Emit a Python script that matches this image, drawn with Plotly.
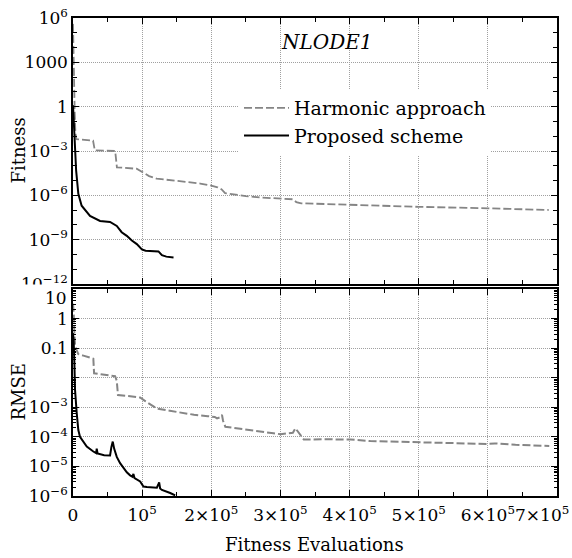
import plotly.graph_objects as go

# ---------------- data ----------------
# Top panel: Fitness vs fitness evaluations
fit_harm_x = [0, 800, 1500, 2500, 3500, 5000, 29000, 31500, 61000, 63500, 92000, 100000,
              110000, 121000, 150000, 184000, 200000, 209000, 215000, 220000, 250000, 272000,
              318000, 323000, 330000, 400000, 500000, 600000, 688000]
fit_harm_y = [4e5, 1e3, 10, 0.32, 0.016, 6.3e-3, 5e-3, 1.1e-3, 1e-3, 7.9e-5, 6.3e-5, 4e-5,
              2e-5, 1.35e-5, 1e-5, 6.3e-6, 4.5e-6, 3.5e-6, 2.5e-6, 1.4e-6, 8.9e-7, 7.1e-7,
              5.4e-7, 3.5e-7, 2.9e-7, 2.2e-7, 1.66e-7, 1.32e-7, 1.02e-7]

fit_prop_x = [0, 1500, 2900, 4500, 7700, 12500, 24600, 39100, 53600, 63300, 70400, 77800,
              85100, 92300, 99600, 105000, 123600, 128600, 135000, 145400]
fit_prop_y = [1.26, 0.063, 2.5e-3, 5e-5, 1.26e-6, 2e-7, 4e-8, 1.86e-8, 1.58e-8, 8.5e-9,
              3.2e-9, 1.8e-9, 8.7e-10, 5e-10, 2.2e-10, 1.8e-10, 1.6e-10, 8.9e-11, 7.1e-11, 6.3e-11]

# Bottom panel: RMSE vs fitness evaluations
rmse_harm_x = [0, 1000, 2000, 3000, 5000, 7700, 15000, 25000, 29400, 30500, 45000, 60900,
               63300, 65000, 80000, 97000, 105000, 121000, 140000, 160000, 175000, 195000,
               205000, 208300, 212000, 215500, 217000, 220300, 240000, 258000, 271000, 290000,
               300000, 318000, 321700, 326000, 333800, 360000, 401400, 430000, 460000, 498100,
               540000, 570000, 599600, 610000, 640000, 688800]
rmse_harm_y = [3.2, 1.6, 0.32, 0.126, 0.089, 0.063, 0.056, 0.047, 0.044, 0.0141, 0.0126, 0.0112,
               0.0079, 0.0026, 0.0024, 0.00214, 0.00158, 0.00091, 0.00076, 0.00063, 0.00056,
               0.0005, 0.00047, 0.00042, 0.00045, 0.00055, 0.00035, 0.00022, 0.00019, 0.000158,
               0.000148, 0.000132, 0.000123, 0.000138, 0.000195, 0.000141, 8.1e-5, 8.3e-5, 8.1e-5,
               7.2e-5, 6.9e-5, 6.3e-5, 6.0e-5, 5.9e-5, 5.75e-5, 6.0e-5, 5.4e-5, 4.9e-5]

rmse_prop_x = [0, 1000, 2000, 2900, 5400, 7700, 10100, 17400, 19900, 29400, 33500, 34300, 35500,
               45000, 53600, 55500, 57500, 59500, 63300, 68100, 77800, 82600, 86000, 87400, 89000,
               97100, 101900, 106800, 121300, 123500, 124600, 126000, 128600, 140600, 147800]
rmse_prop_y = [0.32, 0.16, 0.032, 0.004, 6.3e-4, 1.7e-4, 1e-4, 6.0e-5, 4.7e-5, 3.2e-5, 2.8e-5,
               4.0e-5, 2.75e-5, 2.4e-5, 2.35e-5, 4.5e-5, 6.9e-5, 4.0e-5, 2.1e-5, 1.29e-5, 6.3e-6,
               5.0e-6, 4.5e-6, 5.6e-6, 4.0e-6, 3.1e-6, 2.1e-6, 2.0e-6, 1.9e-6, 2.5e-6, 2.9e-6,
               1.8e-6, 1.6e-6, 1.26e-6, 1.05e-6]

series_names = ["Harmonic approach", "Proposed scheme"]

x_tickvals = [0, 1e5, 2e5, 3e5, 4e5, 5e5, 6e5, 7e5]
x_ticktext = ["0", "10<sup>5</sup>", "2×10<sup>5</sup>", "3×10<sup>5</sup>", "4×10<sup>5</sup>",
              "5×10<sup>5</sup>", "6×10<sup>5</sup>", ""]
x_last_label = "7×10<sup>5</sup>"
x_minor = [5e4, 1.5e5, 2.5e5, 3.5e5, 4.5e5, 5.5e5, 6.5e5]

fit_tickvals = [1e-12, 1e-9, 1e-6, 1e-3, 1, 1e3, 1e6]
fit_ticktext = ["10<sup>−12</sup>", "10<sup>−9</sup>", "10<sup>−6</sup>", "10<sup>−3</sup>",
                "1", "1000", "10<sup>6</sup>"]
fit_minor = [10.0 ** k for k in range(-12, 7)]

rmse_tickvals = [1e-6, 1e-5, 1e-4, 1e-3, 1e-2, 0.1, 1, 10]
rmse_ticktext = ["10<sup>−6</sup>", "10<sup>−5</sup>", "10<sup>−4</sup>", "10<sup>−3</sup>",
                 "", "0.1", "1", ""]
rmse_minor = [m * 10.0 ** k for k in range(-6, 1) for m in range(2, 10)]

FONT = "DejaVu Serif"
GRAY = "#858585"

fig = go.Figure()
fig.add_trace(go.Scatter(x=fit_harm_x, y=fit_harm_y, mode="lines", name=series_names[0],
                         line=dict(color=GRAY, width=1.8, dash="8px,3px"), xaxis="x", yaxis="y"))
fig.add_trace(go.Scatter(x=fit_prop_x, y=fit_prop_y, mode="lines", name=series_names[1],
                         line=dict(color="black", width=2), xaxis="x", yaxis="y"))
fig.add_trace(go.Scatter(x=rmse_harm_x, y=rmse_harm_y, mode="lines", showlegend=False,
                         line=dict(color=GRAY, width=2, dash="8px,3px"), xaxis="x2", yaxis="y2"))
fig.add_trace(go.Scatter(x=rmse_prop_x, y=rmse_prop_y, mode="lines", showlegend=False,
                         line=dict(color="black", width=2), xaxis="x2", yaxis="y2"))

common = dict(showline=True, linecolor="black", linewidth=1.5, mirror="allticks",
              ticks="inside", ticklen=6, tickwidth=1, tickcolor="black",
              showgrid=True, gridcolor="#a0a0a0", gridwidth=1, griddash="1px,1px",
              zeroline=False, automargin=False,
              tickfont=dict(family=FONT, size=17, color="black"))

top_dom = [(496 - 284) / 478, 1]
bot_dom = [0, (496 - 289) / 478]

fig.update_layout(
    width=572, height=558,
    margin=dict(l=73, r=15, t=18, b=62, autoexpand=False),
    paper_bgcolor="white", plot_bgcolor="white",
    font=dict(family=FONT, color="black"),
    xaxis=dict(domain=[0, 1], anchor="y", range=[0, 7e5], tickmode="array",
               tickvals=x_tickvals, showticklabels=False,
               minor=dict(tickmode="array", tickvals=x_minor, ticks="inside", ticklen=4,
                          tickcolor="black", showgrid=False), **common),
    yaxis=dict(domain=top_dom, anchor="x", type="log", range=[-12, 6], tickmode="array",
               tickvals=fit_tickvals, ticktext=fit_ticktext,
               minor=dict(tickmode="array", tickvals=fit_minor, ticks="inside", ticklen=4,
                          tickcolor="black", showgrid=False), **common),
    xaxis2=dict(domain=[0, 1], anchor="y2", range=[0, 7e5], tickmode="array",
                tickvals=x_tickvals, ticktext=x_ticktext, ticklabelstandoff=3, tickangle=0,
                minor=dict(tickmode="array", tickvals=x_minor, ticks="inside", ticklen=4,
                           tickcolor="black", showgrid=False), **common),
    yaxis2=dict(domain=bot_dom, anchor="x2", type="log", range=[-6, 1], tickmode="array",
                tickvals=rmse_tickvals, ticktext=rmse_ticktext,
                minor=dict(tickmode="array", tickvals=rmse_minor, ticks="inside", ticklen=3,
                           tickcolor="black", showgrid=False), **common),
    legend=dict(x=0.343, y=(496 - 89) / 478, xanchor="left", yanchor="top",
                bgcolor="white", borderwidth=0, itemwidth=45, tracegroupgap=0,
                font=dict(family=FONT, size=19, color="black")),
    shapes=[dict(type="rect", xref="paper", yref="paper", layer="above",
                 x0=-0.16, x1=(71 - 73) / 484, y0=(496 - 293) / 478, y1=(496 - 284.6) / 478,
                 fillcolor="white", line=dict(width=0))],
    annotations=[
        dict(text="<i>NLODE1</i>", x=(327 - 73) / 484, y=(496 - 42) / 478, xref="paper",
             yref="paper", showarrow=False, xanchor="center", yanchor="middle",
             font=dict(family=FONT, size=20, color="black")),
        dict(text="Fitness", x=(17.5 - 73) / 484, y=(496 - 151) / 478, xref="paper",
             yref="paper", showarrow=False, textangle=-90, xanchor="center", yanchor="middle",
             font=dict(family=FONT, size=18, color="black")),
        dict(text="RMSE", x=(17.5 - 73) / 484, y=(496 - 392) / 478, xref="paper",
             yref="paper", showarrow=False, textangle=-90, xanchor="center", yanchor="middle",
             font=dict(family=FONT, size=18, color="black")),
        dict(text="Fitness Evaluations", x=(314.5 - 73) / 484, y=(496 - 544.5) / 478,
             xref="paper", yref="paper", showarrow=False, xanchor="center", yanchor="middle",
             font=dict(family=FONT, size=18, color="black")),
        dict(text="10", x=(69 - 73) / 484, y=(496 - 298) / 478, xref="paper", yref="paper",
             showarrow=False, xanchor="right", yanchor="middle",
             font=dict(family=FONT, size=17, color="black")),
        dict(text=x_last_label, x=(571 - 73) / 484, y=(496 - 514) / 478, xref="paper",
             yref="paper", showarrow=False, xanchor="right", yanchor="middle",
             font=dict(family=FONT, size=17, color="black")),
    ],
)

fig.write_html("out.html")
